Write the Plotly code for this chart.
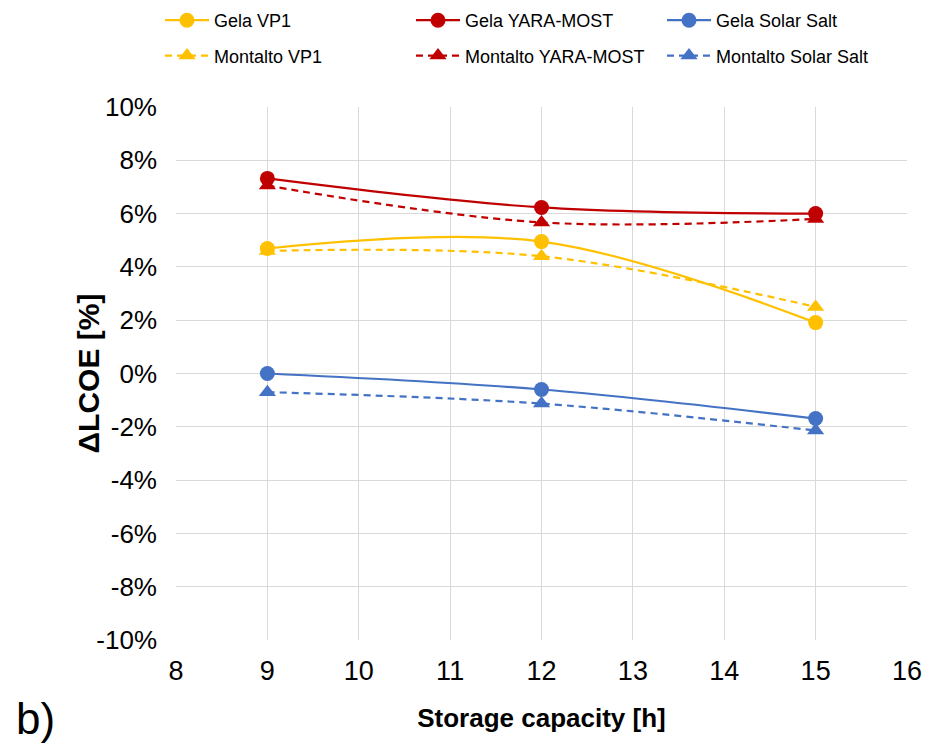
import plotly.graph_objects as go

# Storage capacity (hours) and LCOE variation (%) for each site / fluid
storage_h = [9, 12, 15]

gela_vp1 = [4.69, 4.95, 1.91]
montalto_vp1 = [4.60, 4.40, 2.50]
gela_yara = [7.32, 6.23, 6.00]
montalto_yara = [7.05, 5.67, 5.80]
gela_solar = [0.00, -0.60, -1.69]
montalto_solar = [-0.70, -1.13, -2.14]

x_ticks = [8, 9, 10, 11, 12, 13, 14, 15, 16]
y_ticks = [-10, -8, -6, -4, -2, 0, 2, 4, 6, 8, 10]
y_tick_text = [f"{v}%" for v in y_ticks]

YELLOW = "#FFC000"
RED = "#C00000"
BLUE = "#4472C4"

FONT = "Liberation Sans, Arial, sans-serif"

# (name, values, colour, dashed?, legend column)
series = [
    ("Montalto VP1", montalto_vp1, YELLOW, True, "legend"),
    ("Montalto YARA-MOST", montalto_yara, RED, True, "legend2"),
    ("Montalto Solar Salt", montalto_solar, BLUE, True, "legend3"),
    ("Gela VP1", gela_vp1, YELLOW, False, "legend"),
    ("Gela YARA-MOST", gela_yara, RED, False, "legend2"),
    ("Gela Solar Salt", gela_solar, BLUE, False, "legend3"),
]

fig = go.Figure()
for name, vals, color, dashed, leg in series:
    fig.add_trace(go.Scatter(
        x=storage_h,
        y=vals,
        name=name,
        mode="lines+markers",
        line=dict(color=color, width=2.2, shape="spline",
                  dash="7px,5px" if dashed else "solid"),
        marker=dict(color=color, size=15,
                    symbol="triangle-up" if dashed else "circle",
                    line=dict(width=0)),
        legend=leg,
        legendgroup=name,
        legendrank=2 if dashed else 1,
    ))

legend_common = dict(
    orientation="v",
    xref="container", yref="container",
    yanchor="top", xanchor="left",
    y=1 - 2 / 745,
    font=dict(family=FONT, size=18, color="#000000"),
    tracegroupgap=9,
    itemwidth=44,
    bgcolor="rgba(0,0,0,0)",
    traceorder="grouped",
)

fig.update_layout(
    width=929, height=745,
    margin=dict(l=176, r=22, t=107, b=105, autoexpand=False),
    paper_bgcolor="white",
    plot_bgcolor="white",
    font=dict(family=FONT, color="#000000"),
    showlegend=True,
    legend=dict(legend_common, x=160 / 929),
    legend2=dict(legend_common, x=411 / 929),
    legend3=dict(legend_common, x=662 / 929),
    xaxis=dict(
        range=[8, 16],
        tickvals=x_ticks,
        showgrid=True, gridcolor="#D9D9D9", gridwidth=1,
        zeroline=False, showline=False,
        ticks="", ticklabelstandoff=12,
        tickfont=dict(family=FONT, size=27, color="#000000"),
        title=dict(text="<b>Storage capacity [h]</b>",
                   font=dict(family=FONT, size=26, color="#000000"),
                   standoff=23),
    ),
    yaxis=dict(
        range=[-10, 10],
        tickvals=y_ticks, ticktext=y_tick_text,
        showgrid=True, gridcolor="#D9D9D9", gridwidth=1,
        zeroline=False, showline=False,
        ticks="", ticklabelstandoff=18,
        tickfont=dict(family=FONT, size=26, color="#000000"),
    ),
    annotations=[
        # vertical axis title
        dict(
            text="<b>ΔLCOE [%]</b>", xref="paper", yref="paper",
            x=(88 - 176) / 731, y=0.5, textangle=-90,
            xanchor="center", yanchor="middle", showarrow=False,
            font=dict(family=FONT, size=30, color="#000000"),
        ),
        # panel label
        dict(
            text="b)", xref="paper", yref="paper",
            x=-(176 - 14) / 731, y=-(718 - 640) / 533,
            xanchor="left", yanchor="middle", showarrow=False,
            font=dict(family=FONT, size=44, color="#000000"),
        ),
    ],
)

fig.write_html("out.html")
